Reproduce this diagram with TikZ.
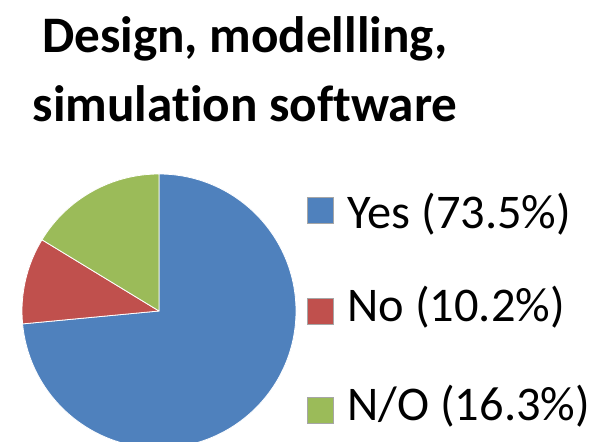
\documentclass[tikz,border=0pt]{standalone}
\usepackage{fontspec}
\setmainfont{Carlito}[Ligatures={NoCommon}]
\definecolor{cyes}{HTML}{4F81BD}
\definecolor{cno}{HTML}{C0504D}
\definecolor{cno2}{HTML}{9BBB59}
\begin{document}
\begin{tikzpicture}[x=0.5pt,y=-0.5pt,
  slice/.style={draw=white,line width=0.4pt,line join=round},
  legbox/.style={draw=black!35,line width=0.3pt,minimum size=13pt,inner sep=0pt,anchor=north west},
  legtext/.style={font=\fontsize{24.2}{28}\selectfont,anchor=base west,inner sep=0pt},
  titletext/.style={font=\bfseries\fontsize{25.6}{30}\selectfont,anchor=base,inner sep=0pt}]
\useasboundingbox (0,0) rectangle (589,442);
\node[titletext] (t1) at (245,53) {Design, modellling,};
\node[titletext] (t2) at (245,122) {simulation software};
\coordinate (c) at (159,311);
\fill[cyes,slice] (c) -- ++(-90:137) arc[start angle=-90,end angle=174.6,radius=137] -- cycle;
\fill[cno,slice] (c) -- ++(174.6:137) arc[start angle=174.6,end angle=211.32,radius=137] -- cycle;
\fill[cno2,slice] (c) -- ++(211.32:137) arc[start angle=211.32,end angle=270,radius=137] -- cycle;
\node[legbox,fill=cyes] (b1) at (307,197) {};
\node[legbox,fill=cno] (b2) at (307,298) {};
\node[legbox,fill=cno2] (b3) at (307,397) {};
\node[legtext] (l1) at (347,229) {Yes (73.5\%)};
\node[legtext] (l2) at (347,322) {No (10.2\%)};
\node[legtext] (l3) at (347,421) {N/O (16.3\%)};
\end{tikzpicture}
\end{document}
